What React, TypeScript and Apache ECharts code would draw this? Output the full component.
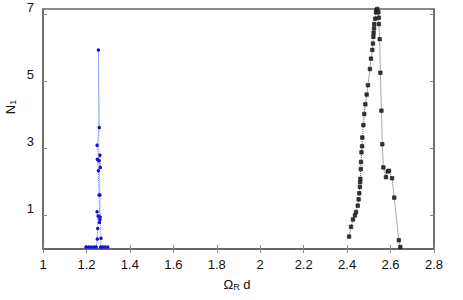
import React, { useEffect, useRef } from "react";
import * as echarts from "echarts";

const xTicks = [1, 1.2, 1.4, 1.6, 1.8, 2, 2.2, 2.4, 2.6, 2.8];
const yTickValues = [1, 3, 5, 7];

const blueX = [1.198, 1.21, 1.222, 1.235, 1.245, 1.25, 1.252, 1.249, 1.254, 1.26, 1.262, 1.258, 1.255, 1.25, 1.262, 1.264, 1.249, 1.259, 1.255, 1.258, 1.262, 1.263, 1.267, 1.265, 1.275, 1.285, 1.298];
const blueY = [0.06, 0.06, 0.06, 0.06, 0.06, 0.3, 0.61, 1.11, 0.98, 0.79, 0.88, 1.61, 2.33, 2.67, 2.79, 2.43, 3.09, 3.62, 5.93, 2.63, 1.61, 0.95, 0.32, 0.06, 0.06, 0.06, 0.06];

const blackX = [2.409, 2.418, 2.427, 2.436, 2.441, 2.449, 2.453, 2.456, 2.459, 2.46, 2.461, 2.463, 2.464, 2.466, 2.469, 2.47, 2.475, 2.479, 2.484, 2.49, 2.496, 2.505, 2.51, 2.516, 2.519, 2.521, 2.522, 2.524, 2.525, 2.529, 2.533, 2.536, 2.539, 2.544, 2.546, 2.546, 2.55, 2.553, 2.558, 2.562, 2.567, 2.579, 2.587, 2.593, 2.607, 2.617, 2.638, 2.645];
const blackY = [0.37, 0.66, 0.88, 1.0, 1.1, 1.29, 1.48, 1.66, 1.85, 1.99, 2.09, 2.38, 2.59, 2.88, 3.06, 3.32, 3.69, 4.02, 4.31, 4.6, 4.88, 5.36, 5.67, 5.93, 6.12, 6.32, 6.44, 6.57, 6.7, 6.86, 7.05, 7.12, 7.15, 7.05, 6.89, 6.7, 6.25, 5.25, 4.12, 3.12, 2.43, 2.14, 2.31, 2.33, 2.11, 1.53, 0.26, 0.06];

const FONT = "Liberation Sans, Arial, sans-serif";

export default function App() {
  const ref = useRef<HTMLDivElement>(null);
  useEffect(() => {
    if (!ref.current) return;
    const chart = echarts.init(ref.current, null, { renderer: "svg" });
    const axisLine = { show: true, lineStyle: { color: "#666", width: 1.5 } };
    const tick = { show: true, inside: true, length: 4, lineStyle: { color: "#888", width: 1 } };
    chart.setOption({
      animation: false,
      backgroundColor: "#fff",
      grid: { left: 43, right: 29, top: 5, bottom: 51, containLabel: false, show: true, borderColor: "#666", borderWidth: 1.5, backgroundColor: "transparent" },
      xAxis: [
        {
          type: "value", min: xTicks[0], max: xTicks[xTicks.length - 1], interval: 0.2, position: "bottom",
          axisLine, axisTick: tick, splitLine: { show: false },
          axisLabel: { color: "#111", fontFamily: FONT, fontSize: 13, margin: 9, formatter: (v: number) => String(+v.toFixed(1)) },
        },
        {
          type: "value", min: xTicks[0], max: xTicks[xTicks.length - 1], interval: 0.2, position: "top",
          axisLine, axisTick: tick, splitLine: { show: false }, axisLabel: { show: false },
        },
      ],
      yAxis: [
        {
          type: "value", min: 0, max: 7.15, position: "left",
          axisLine, axisTick: { ...tick, customValues: yTickValues }, splitLine: { show: false },
          axisLabel: { color: "#111", fontFamily: FONT, fontSize: 13, margin: 9, customValues: yTickValues, verticalAlign: "bottom", lineHeight: 14 },
        },
        {
          type: "value", min: 0, max: 7.15, position: "right",
          axisLine, axisTick: { ...tick, customValues: yTickValues }, splitLine: { show: false },
          axisLabel: { show: false, customValues: yTickValues },
        },
      ],
      series: [
        {
          type: "line",
          data: blueX.map((x, i) => [x, blueY[i]]),
          symbol: "circle", symbolSize: 3.5,
          itemStyle: { color: "#1010e0" },
          lineStyle: { color: "#7080ff", width: 1, type: "dotted" },
          clip: true,
        },
        {
          type: "line",
          data: blackX.map((x, i) => [x, blackY[i]]),
          symbol: "rect", symbolSize: 3.5,
          itemStyle: { color: "#333", borderColor: "#111", borderWidth: 0.6 },
          lineStyle: { color: "#555", width: 1, type: "dotted" },
          clip: true,
        },
      ],
      graphic: [
        {
          type: "text", x: 10, y: 107, rotation: Math.PI / 2,
          style: {
            text: "{n|N}{s|1}", fill: "#111", align: "center", verticalAlign: "middle",
            rich: {
              n: { fontFamily: FONT, fontSize: 13, fill: "#111" },
              s: { fontFamily: FONT, fontSize: 9, fill: "#111", padding: [6, 0, 0, 0] },
            },
          },
        },
        {
          type: "text", x: 237, y: 284,
          style: {
            text: "{n|Ω}{s|R}{n| d}", fill: "#111", align: "center", verticalAlign: "middle",
            rich: {
              n: { fontFamily: FONT, fontSize: 13, fill: "#111" },
              s: { fontFamily: FONT, fontSize: 9, fill: "#111", padding: [6, 0, 0, 0] },
            },
          },
        },
      ],
    });
    return () => chart.dispose();
  }, []);
  return <div ref={ref} style={{ position: "absolute", left: 0, top: 0, width: 463, height: 300 }} />;
}
